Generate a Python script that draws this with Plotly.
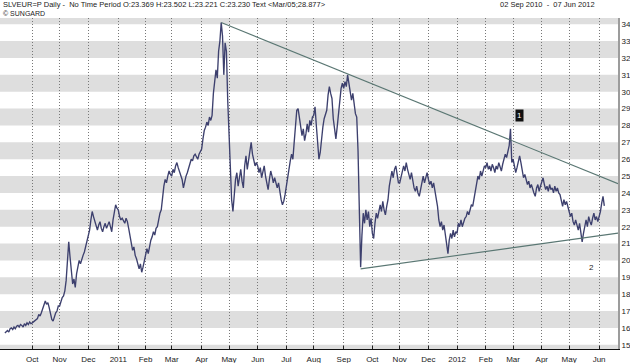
import pandas as pd
import plotly.graph_objects as go

# ---- daily closes (EUR per oz), one list per month ----
sep10 = [15.7, 15.8, 15.85, 15.75, 15.95, 16.0, 15.9, 16.05, 15.95, 16.1, 16.15, 16.05, 16.2, 16.15, 16.05, 16.25, 16.15, 16.3, 16.2, 16.35, 16.25]
oct10 = [16.3, 16.35, 16.4, 16.5, 16.55, 16.8, 16.7, 16.9, 17.1, 17.3, 17.6, 17.4, 17.5, 17.2, 16.9, 16.5, 16.4, 16.7, 16.9, 17.0, 17.3]
nov10 = [17.3, 17.6, 17.8, 17.9, 18.2, 18.8, 19.9, 21.1, 20.2, 19.3, 18.6, 18.9, 18.4, 19.2, 19.7, 20.0, 19.8, 20.1, 20.3, 20.5, 20.8, 21.2]
dec10 = [21.4, 21.8, 22.4, 22.9, 22.6, 22.3, 22.0, 21.8, 22.1, 22.3, 21.9, 21.7, 22.0, 22.2, 21.9, 22.1, 22.3, 22.0, 21.7, 22.4, 22.9, 23.3, 23.1]
jan11 = [23.0, 22.6, 22.4, 22.5, 22.3, 22.2, 22.5, 22.3, 21.9, 21.4, 21.0, 20.6, 20.8, 20.3, 20.1, 19.7, 19.5, 19.8, 19.3, 19.6, 20.0]
feb11 = [20.3, 20.7, 20.4, 20.9, 21.2, 21.4, 21.7, 21.5, 21.9, 22.0, 22.5, 22.8, 23.0, 23.8, 24.4, 24.8, 24.6, 25.0, 25.3, 25.1]
mar11 = [25.0, 25.4, 25.2, 25.6, 25.8, 25.5, 25.3, 25.1, 24.8, 24.3, 24.7, 25.0, 25.2, 25.5, 25.8, 26.0, 25.9, 26.2, 26.3, 26.1, 26.0, 26.3, 26.5]
apr11 = [26.6, 27.2, 27.7, 27.9, 28.2, 28.0, 28.5, 28.3, 28.6, 29.9, 30.6, 31.3, 30.8, 32.4, 33.0, 34.1, 33.3, 31.0, 32.9, 32.4, 29.5]
may11 = [27.2, 25.0, 23.6, 22.9, 24.0, 24.8, 25.2, 24.4, 24.9, 25.4, 24.7, 24.3, 25.6, 26.2, 25.4, 26.0, 26.6, 27.0, 26.3, 25.9, 25.6, 25.8]
jun11 = [25.6, 25.2, 25.5, 24.9, 25.3, 25.6, 25.0, 24.6, 24.2, 24.8, 25.3, 25.0, 24.6, 24.9, 24.5, 24.3, 24.6, 24.0, 23.6, 23.3, 23.5, 23.9]
jul11 = [24.4, 25.0, 25.6, 25.9, 26.3, 26.0, 27.0, 28.0, 28.9, 29.0, 28.4, 28.0, 27.4, 27.8, 27.1, 27.5, 28.1, 27.6, 28.3, 28.0, 28.5]
aug11 = [28.6, 29.1, 28.0, 26.8, 26.0, 26.4, 27.4, 27.9, 28.4, 28.7, 28.9, 29.8, 30.3, 29.9, 29.6, 28.4, 27.6, 27.2, 27.9, 28.8, 29.6, 30.2, 30.5]
sep11 = [30.2, 30.6, 30.3, 31.0, 30.4, 30.0, 29.5, 29.9, 29.2, 28.7, 28.5, 26.5, 23.0, 19.6, 21.5, 22.8, 22.2, 23.0, 22.4, 22.9, 22.0, 22.5]
oct11 = [21.6, 21.3, 22.2, 22.8, 22.5, 23.0, 23.3, 22.9, 23.5, 23.0, 22.7, 23.2, 23.6, 24.4, 25.0, 25.3, 24.9, 25.4, 25.6, 25.0, 24.6]
nov11 = [24.6, 24.9, 25.2, 25.6, 25.3, 25.8, 25.4, 25.0, 24.8, 25.2, 24.6, 24.3, 24.1, 24.4, 24.0, 23.8, 24.2, 24.7, 25.0, 24.6, 24.9, 25.2]
dec11 = [24.8, 24.5, 24.7, 24.3, 24.6, 24.2, 23.8, 23.2, 22.4, 22.0, 22.3, 21.8, 22.1, 21.6, 21.0, 20.4, 21.2, 21.6, 21.3, 21.8, 21.4, 21.7]
jan12 = [21.6, 22.2, 22.0, 22.4, 22.0, 22.3, 22.5, 22.6, 22.9, 22.7, 23.0, 23.3, 23.2, 23.6, 24.2, 24.6, 25.0, 24.8, 25.3, 25.0, 25.4, 25.6]
feb12 = [25.5, 25.8, 25.4, 25.6, 25.3, 25.7, 25.5, 25.2, 25.6, 25.4, 25.8, 25.5, 25.3, 25.7, 26.0, 26.3, 26.1, 26.4, 26.8, 27.8, 25.8]
mar12 = [26.0, 25.6, 25.2, 25.5, 25.9, 26.2, 25.8, 25.4, 24.9, 25.1, 24.8, 24.5, 24.7, 24.3, 24.5, 24.2, 24.0, 23.8, 24.3, 24.5, 24.1, 24.4]
apr12 = [24.6, 24.9, 24.5, 24.2, 24.4, 24.1, 24.5, 24.2, 24.3, 24.0, 24.4, 24.1, 24.3, 24.0, 23.9, 23.5, 23.2, 23.6, 23.3, 23.5, 23.1]
may12 = [22.9, 22.6, 22.8, 22.3, 22.1, 22.4, 22.0, 21.8, 22.2, 21.5, 21.1, 21.6, 22.1, 22.4, 22.0, 22.6, 22.3, 22.1, 22.5, 22.8, 22.4, 22.6, 22.3]
jun12 = [22.6, 22.9, 23.4, 23.8, 23.23]

month_first_days = ["2010-09-02", "2010-10-01", "2010-11-01", "2010-12-01", "2011-01-03", "2011-02-01",
                    "2011-03-01", "2011-04-01", "2011-05-02", "2011-06-01", "2011-07-01", "2011-08-01",
                    "2011-09-01", "2011-10-03", "2011-11-01", "2011-12-01", "2012-01-02", "2012-02-01",
                    "2012-03-01", "2012-04-02", "2012-05-01", "2012-06-01"]
monthly_values = [sep10, oct10, nov10, dec10, jan11, feb11, mar11, apr11, may11, jun11, jul11, aug11,
                  sep11, oct11, nov11, dec11, jan12, feb12, mar12, apr12, may12, jun12]

tick_dates = month_first_days[1:]
tick_labels = ["Oct", "Nov", "Dec", "2011", "Feb", "Mar", "Apr", "May", "Jun", "Jul", "Aug",
               "Sep", "Oct", "Nov", "Dec", "2012", "Feb", "Mar", "Apr", "May", "Jun"]
y_ticks = list(range(15, 35))

# trend lines (anchor date, value)
upper_trend_x = ["2011-04-22", "2012-06-21 12:00"]
upper_trend_y = [34.1, 24.55]
lower_trend_x = ["2011-09-20", "2012-06-21 12:00"]
lower_trend_y = [19.5, 21.62]

x_range = ["2010-08-27 06:00", "2012-06-21 12:00"]
y_range = [14.75, 34.37]

dates, closes = [], []
for start, vals in zip(month_first_days, monthly_values):
    d = pd.bdate_range(start, periods=len(vals))
    dates.extend(d)
    closes.extend(vals)

FONT = "Liberation Sans, Arial, sans-serif"

fig = go.Figure()
fig.add_trace(go.Scatter(x=dates, y=closes, mode="lines",
                         line=dict(color="#3d406e", width=1.35), hoverinfo="skip"))
fig.add_trace(go.Scatter(x=upper_trend_x, y=upper_trend_y, mode="lines",
                         line=dict(color="#5a7773", width=1.1), hoverinfo="skip"))
fig.add_trace(go.Scatter(x=lower_trend_x, y=lower_trend_y, mode="lines",
                         line=dict(color="#5a7773", width=1.1), hoverinfo="skip"))

shapes = []
for lo in range(14, 35, 2):
    shapes.append(dict(type="rect", xref="paper", x0=0, x1=1, yref="y", y0=lo, y1=lo + 1,
                       fillcolor="#dedede", line=dict(width=0), layer="below"))

annotations = [
    dict(text="SLVEUR=P Daily -  No Time Period O:23.369 H:23.502 L:23.221 C:23.230 Text &lt;Mar/05;28.877&gt;",
         xref="paper", yref="paper", x=0, y=1 + 13.5 / 331, xanchor="left", yanchor="middle",
         xshift=1, showarrow=False, font=dict(family=FONT, size=7.5, color="#222")),
    dict(text="© SUNGARD", xref="paper", yref="paper", x=0, y=1 + 5 / 331,
         xanchor="left", yanchor="middle", xshift=1, showarrow=False,
         font=dict(family=FONT, size=7, color="#222")),
    dict(text="02 Sep 2010  -  07 Jun 2012", xref="paper", yref="paper", x=597 / 618, y=1 + 13.5 / 331,
         xanchor="right", yanchor="middle", showarrow=False, font=dict(family=FONT, size=7.5, color="#222")),
    dict(text="1", x="2012-03-08", y=28.62, xref="x", yref="y", showarrow=False,
         bgcolor="#111", borderpad=1, font=dict(family=FONT, size=8, color="white")),
    dict(text="2", x="2012-05-24", y=19.6, xref="x", yref="y", showarrow=False,
         font=dict(family=FONT, size=8, color="#222")),
]

fig.update_layout(
    width=630, height=363,
    margin=dict(l=0, r=12, t=18, b=14, pad=0),
    paper_bgcolor="white", plot_bgcolor="white",
    showlegend=False,
    shapes=shapes, annotations=annotations,
    xaxis=dict(type="date", range=x_range, automargin=False,
               rangebreaks=[dict(bounds=["sat", "mon"])],
               tickmode="array", tickvals=tick_dates, ticktext=tick_labels,
               showgrid=True, gridcolor="#777", griddash="1px,2px", gridwidth=1,
               showline=True, linecolor="#111", linewidth=1,
               ticks="inside", ticklen=3, tickcolor="#222",
               ticklabelstandoff=2,
               tickfont=dict(family=FONT, size=8, color="#222"), zeroline=False),
    yaxis=dict(range=y_range, side="right", tickmode="array", tickvals=y_ticks,
               automargin=False, ticklabeloverflow="allow",
               showgrid=False, zeroline=False, showline=True,
               linecolor="#9c9c9c", linewidth=2, ticks="",
               tickfont=dict(family=FONT, size=8, color="#222")),
)

fig.write_html("out.html", config={"displayModeBar": False, "staticPlot": True},
               post_script="document.body.style.margin='0';document.body.style.padding='0';"
                           "document.documentElement.style.overflow='hidden';")
